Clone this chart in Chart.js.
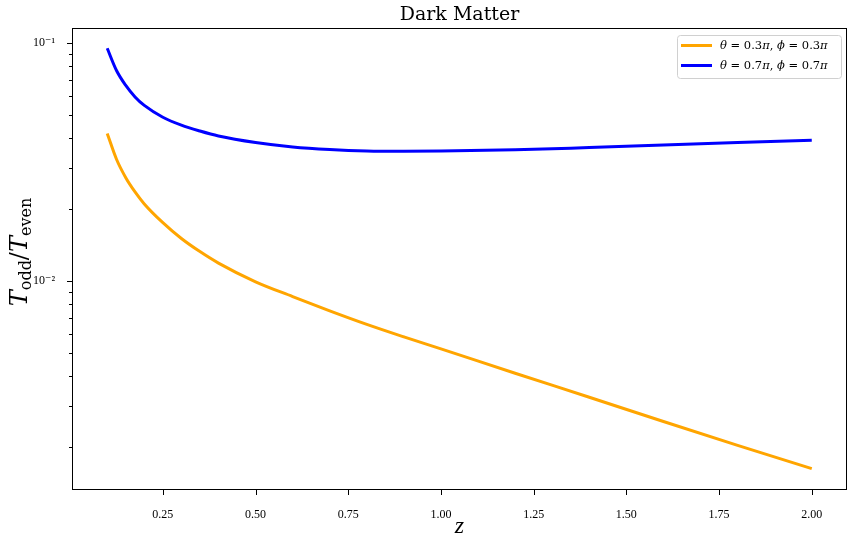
<!DOCTYPE html>
<html lang="en">
<head>
  <meta charset="UTF-8">
  <title>Dark Matter</title>
  <script src="https://cdn.jsdelivr.net/npm/chart.js"></script>
  <style>
    body { margin: 0; background: #fff; }
    canvas { display: block; }
  </style>
</head>
<body>
  <canvas id="grafico" width="853" height="540"></canvas>

  <script>
    // valores
    const zValues = [0.1, 0.125, 0.15, 0.175, 0.2, 0.25, 0.3, 0.35, 0.4, 0.5, 0.6, 0.7, 0.8, 0.9, 1.0, 1.2, 1.4, 1.6, 1.8, 2.0];
    const ratioA = [0.0417, 0.0325, 0.0272, 0.0237, 0.0211, 0.0176, 0.0151, 0.0133, 0.0119, 0.00993, 0.00861, 0.00750, 0.00658, 0.00583, 0.00519, 0.00410, 0.00325, 0.00257, 0.00204, 0.00163];
    const ratioB = [0.0951, 0.0767, 0.0664, 0.0594, 0.0547, 0.0488, 0.0452, 0.0427, 0.0407, 0.0382, 0.0366, 0.0357, 0.0352, 0.0351, 0.0352, 0.0356, 0.0364, 0.0373, 0.0382, 0.0391];
    const labelA = 'θ = 0.3π, ϕ = 0.3π';
    const labelB = 'θ = 0.7π, ϕ = 0.7π';
    const titulo = 'Dark Matter';

    const xTicks = [0.25, 0.5, 0.75, 1.0, 1.25, 1.5, 1.75, 2.0];
    const yMajor = [0.01, 0.1];
    const yMajorLabels = ['10⁻²', '10⁻¹'];
    const yMinor = [0.002, 0.003, 0.004, 0.005, 0.006, 0.007, 0.008, 0.009,
                    0.02, 0.03, 0.04, 0.05, 0.06, 0.07, 0.08, 0.09];

    const SERIF = "'Liberation Serif', 'DejaVu Serif', serif";
    const DSERIF = "'DejaVu Serif', serif";

    // texto con partes en cursiva / subindices, centrado en x
    function drawRich(ctx, parts, x, y) {
      let w = 0;
      parts.forEach(p => { ctx.font = p[1]; w += ctx.measureText(p[0]).width; });
      let cx = x - w / 2;
      parts.forEach(p => {
        ctx.font = p[1];
        ctx.fillText(p[0], cx, y + (p[2] || 0));
        cx += ctx.measureText(p[0]).width;
      });
      return w;
    }

    function legendParts(label) {
      // letras griegas en cursiva, el resto recto
      const parts = [];
      for (const ch of label) {
        const it = 'θϕπ'.includes(ch);
        const font = (it ? 'italic ' : '') + '11.5px ' + DSERIF;
        if (parts.length && parts[parts.length - 1][1] === font) parts[parts.length - 1][0] += ch;
        else parts.push([ch, font]);
      }
      return parts;
    }

    const marco = {
      id: 'marco',
      afterDraw(chart) {
        const { ctx, chartArea: a, scales: { x, y } } = chart;
        ctx.save();
        ctx.strokeStyle = '#000';
        ctx.fillStyle = '#000';
        ctx.lineWidth = 1;
        ctx.strokeRect(Math.round(a.left) + 0.5, Math.round(a.top) + 0.5,
                       Math.round(a.right - a.left) - 1, Math.round(a.bottom - a.top) - 1);

        ctx.beginPath();
        xTicks.forEach(v => {
          const px = Math.round(x.getPixelForValue(v)) + 0.5;
          ctx.moveTo(px, a.bottom); ctx.lineTo(px, a.bottom + 5);
        });
        yMajor.forEach(v => {
          const py = Math.round(y.getPixelForValue(v)) + 0.5;
          ctx.moveTo(a.left - 5, py); ctx.lineTo(a.left, py);
        });
        yMinor.forEach(v => {
          const py = Math.round(y.getPixelForValue(v)) + 0.5;
          ctx.moveTo(a.left - 3, py); ctx.lineTo(a.left, py);
        });
        ctx.stroke();

        // titulo centrado sobre el area de datos
        ctx.textBaseline = 'alphabetic';
        ctx.textAlign = 'left';
        drawRich(ctx, [[titulo, '19px ' + DSERIF]], (a.left + a.right) / 2, 20);

        // etiquetas de ejes
        drawRich(ctx, [['z', 'italic 24px ' + SERIF]], (a.left + a.right) / 2, 533);

        ctx.save();
        ctx.translate(27, 252);
        ctx.rotate(-Math.PI / 2);
        drawRich(ctx, [
          ['T', 'italic 24px ' + DSERIF],
          ['odd', '16px ' + DSERIF, 3.5],
          ['/', '24px ' + DSERIF],
          ['T', 'italic 24px ' + DSERIF],
          ['even', '16px ' + DSERIF, 3.5]
        ], 0, 0);
        ctx.restore();

        // leyenda
        const lx = 677, ly = 35, lw = 164, lh = 43;
        ctx.fillStyle = 'rgba(255,255,255,0.8)';
        ctx.strokeStyle = '#d0d0d0';
        ctx.beginPath();
        ctx.roundRect(lx + 0.5, ly + 0.5, lw, lh, 3);
        ctx.fill();
        ctx.stroke();
        chart.data.datasets.forEach((ds, i) => {
          const ry = ly + 10.5 + i * 20;
          ctx.strokeStyle = ds.borderColor;
          ctx.lineWidth = 3;
          ctx.beginPath();
          ctx.moveTo(lx + 4, ry); ctx.lineTo(lx + 35, ry);
          ctx.stroke();
          ctx.fillStyle = '#000';
          ctx.textBaseline = 'middle';
          const parts = legendParts(ds.label);
          let w = 0;
          parts.forEach(p => { ctx.font = p[1]; w += ctx.measureText(p[0]).width; });
          drawRich(ctx, parts, lx + 43 + w / 2, ry + 1);
        });
        ctx.restore();
      }
    };

    const ctx = document.getElementById('grafico').getContext('2d');
    new Chart(ctx, {
      type: 'line',
      data: {
        datasets: [
          {
            label: labelA,
            data: zValues.map((z, i) => ({ x: z, y: ratioA[i] })),
            borderColor: '#ffa500',
            borderWidth: 3,
            pointRadius: 0,
            fill: false,
            cubicInterpolationMode: 'monotone'
          },
          {
            label: labelB,
            data: zValues.map((z, i) => ({ x: z, y: ratioB[i] })),
            borderColor: '#0000ff',
            borderWidth: 3,
            pointRadius: 0,
            fill: false,
            cubicInterpolationMode: 'monotone'
          }
        ]
      },
      options: {
        responsive: false,
        animation: false,
        layout: { padding: { top: 28, right: 6, left: 0, bottom: 0 } },
        plugins: {
          legend: { display: false },
          tooltip: { enabled: false },
          title: { display: false }
        },
        scales: {
          x: {
            type: 'linear',
            min: 0.005,
            max: 2.095,
            afterBuildTicks: s => { s.ticks = xTicks.map(v => ({ value: v })); },
            afterFit: s => { s.height = 50; },
            ticks: {
              callback: v => v.toFixed(2),
              color: '#000',
              font: { family: SERIF, size: 12 },
              padding: 10,
              maxRotation: 0,
              autoSkip: false
            },
            grid: { display: false },
            border: { display: false }
          },
          y: {
            type: 'logarithmic',
            min: 0.001325,
            max: 0.1157,
            afterBuildTicks: s => { s.ticks = yMajor.map(v => ({ value: v, major: true })); },
            afterFit: s => { s.width = 72; },
            ticks: {
              callback: v => {
                const i = yMajor.findIndex(m => Math.abs(m - v) < 1e-9);
                return i >= 0 ? yMajorLabels[i] : '';
              },
              color: '#000',
              font: { family: SERIF, size: 12 },
              padding: 9,
              autoSkip: false
            },
            grid: { display: false },
            border: { display: false }
          }
        }
      },
      plugins: [marco]
    });
  </script>
</body>
</html>
